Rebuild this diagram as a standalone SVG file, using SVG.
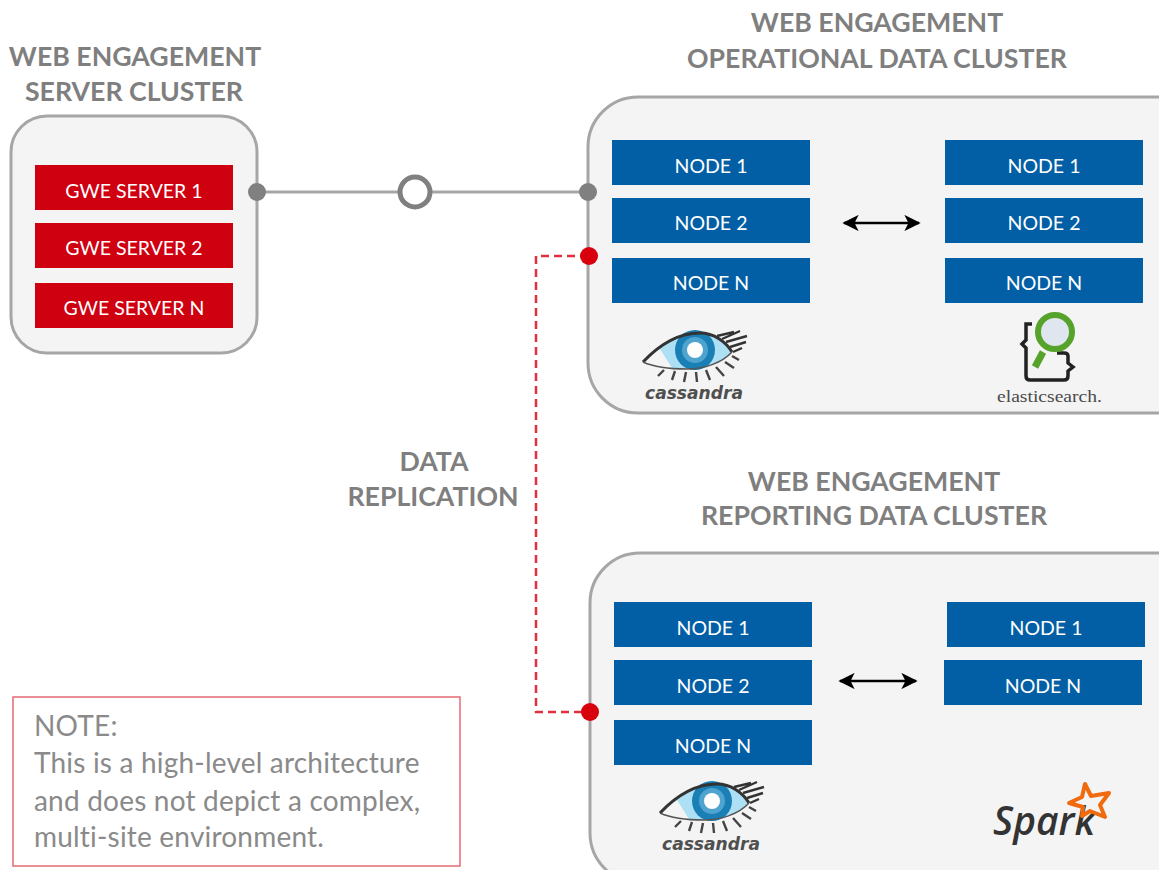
<svg xmlns="http://www.w3.org/2000/svg" width="1159" height="870" viewBox="0 0 1159 870">
<style>
.title{font-family:"Lato","Open Sans",sans-serif;font-weight:700;font-size:26.7px;fill:#7f7f7f;text-anchor:middle}
.cluster{fill:#f4f4f4;stroke:#a6a6a6;stroke-width:3}
.blue{fill:#025fa5}
.red{fill:#cf0010}
.lbl{font-family:"Lato","Open Sans",sans-serif;font-size:19.5px;fill:#fff;text-anchor:middle}
.note{font-family:"Lato","Open Sans",sans-serif;font-size:28px;letter-spacing:.2px;fill:#8a8a8a}
.gl{stroke:#a6a6a6;stroke-width:3;fill:none}
.rd{stroke:#e0303f;stroke-width:2.5;stroke-dasharray:8 5;fill:none}
.dg{fill:#808080}
.dr{fill:#d9000d}
.ar{stroke:#000;stroke-width:2.5;fill:none}
</style>
<defs>
<marker id="ah" viewBox="0 0 10 10" refX="9" refY="5" markerWidth="6.5" markerHeight="6.5" orient="auto-start-reverse"><path d="M0 0L10 5L0 10L2.5 5Z" fill="#000"/></marker>
<symbol id="eye" overflow="visible">
<path d="M1 32C18 14 38 3 58 3C72 3 84 12 90 22C80 33 62 39 45 39C28 39 12 37 1 32Z" fill="#aee0f5"/>
<path d="M1 32C6 27 12 23 18 19L30 38C18 38 9 36 1 32Z" fill="#f4f4f4"/>
<circle cx="53" cy="20" r="20" fill="#1a7fb5"/>
<circle cx="53" cy="20" r="13" fill="#4fa3cf"/>
<circle cx="53" cy="20" r="8" fill="#fff"/>
<path d="M1 32C18 14 38 3 58 3C72 3 84 12 90 22" fill="none" stroke="#333" stroke-width="3"/>
<path d="M1 32C12 37 28 39 45 39C62 39 80 33 90 22" fill="none" stroke="#555" stroke-width="1.5"/>
<path d="M75 6L92 2M80 9L98 1M84 12L105 6M88 17L104 12M91 22L100 18" stroke="#333" stroke-width="2.4" fill="none"/>
<path d="M22 40L16 46M33 41L30 50M44 42L42 52M54 42L55 52M64 40L68 50M74 37L82 46M83 32L92 38M90 26L97 30" stroke="#444" stroke-width="2.4" fill="none"/>
<text x="52" y="69" font-family="'DejaVu Sans',sans-serif" font-style="italic" font-weight="700" font-size="17" fill="#4f4f4f" text-anchor="middle" textLength="98" lengthAdjust="spacingAndGlyphs">cassandra</text>
</symbol>
</defs>
<rect width="1159" height="870" fill="#fff"/>

<text class="title" x="135" y="66">WEB ENGAGEMENT</text>
<text class="title" x="134" y="101">SERVER CLUSTER</text>
<text class="title" x="877" y="32">WEB ENGAGEMENT</text>
<text class="title" x="877" y="68">OPERATIONAL DATA CLUSTER</text>
<text class="title" x="874" y="491">WEB ENGAGEMENT</text>
<text class="title" x="874" y="525">REPORTING DATA CLUSTER</text>
<text class="title" x="434" y="471">DATA</text>
<text class="title" x="433" y="506">REPLICATION</text>

<g id="server-cluster">
<rect class="cluster" x="11" y="116" width="246" height="237" rx="36"/>
<rect class="red" x="35" y="165" width="198" height="45"/><text class="lbl" x="134" y="198">GWE SERVER 1</text>
<rect class="red" x="35" y="223" width="198" height="45"/><text class="lbl" x="134" y="255">GWE SERVER 2</text>
<rect class="red" x="35" y="283" width="198" height="45"/><text class="lbl" x="134" y="315">GWE SERVER N</text>
</g>

<g id="operational-cluster">
<rect class="cluster" x="588" y="97" width="620" height="316" rx="50"/>
<rect class="blue" x="612" y="140" width="198" height="45"/><text class="lbl" x="711" y="173">NODE 1</text>
<rect class="blue" x="612" y="198" width="198" height="45"/><text class="lbl" x="711" y="230">NODE 2</text>
<rect class="blue" x="612" y="258" width="198" height="45"/><text class="lbl" x="711" y="290">NODE N</text>
<rect class="blue" x="945" y="140" width="198" height="45"/><text class="lbl" x="1044" y="173">NODE 1</text>
<rect class="blue" x="945" y="198" width="198" height="45"/><text class="lbl" x="1044" y="230">NODE 2</text>
<rect class="blue" x="945" y="258" width="198" height="45"/><text class="lbl" x="1044" y="290">NODE N</text>
<use href="#eye" x="642" y="330"/>
<g id="elasticsearch-logo">
<path d="M1032 324H1026V340L1022 344L1026 348V376Q1026 380 1030 380H1064Q1068 380 1068 376V371L1073 367L1068 363V356Q1068 353 1064 353H1057" fill="none" stroke="#222" stroke-width="3.5"/>
<circle cx="1055" cy="332" r="17" fill="#dfe6f0" stroke="#56a32b" stroke-width="6"/>
<path d="M1043 352L1035 367" stroke="#56a32b" stroke-width="7"/>
<text x="1049.500" y="402" font-family="'Liberation Serif',serif" font-size="17" fill="#4a4a4a" text-anchor="middle" textLength="105" lengthAdjust="spacingAndGlyphs">elasticsearch.</text>
</g>
</g>

<g id="reporting-cluster">
<rect class="cluster" x="590" y="553" width="620" height="330" rx="50"/>
<rect class="blue" x="614" y="602" width="198" height="45"/><text class="lbl" x="713" y="635">NODE 1</text>
<rect class="blue" x="614" y="660" width="198" height="45"/><text class="lbl" x="713" y="693">NODE 2</text>
<rect class="blue" x="614" y="720" width="198" height="45"/><text class="lbl" x="713" y="753">NODE N</text>
<rect class="blue" x="947" y="602" width="198" height="45"/><text class="lbl" x="1046" y="635">NODE 1</text>
<rect class="blue" x="944" y="660" width="198" height="45"/><text class="lbl" x="1043" y="693">NODE N</text>
<use href="#eye" x="659" y="781"/>
<g id="spark-logo">
<text x="1044" y="835" font-family="'Open Sans',sans-serif" font-style="italic" font-weight="600" font-size="39" fill="#333" text-anchor="middle" textLength="102" lengthAdjust="spacingAndGlyphs">Spark</text>
<path d="M1085 784L1091 796L1109 793L1100 805L1105 817L1090 811L1082 816L1083 807L1069 803L1082 797Z" fill="none" stroke="#f26a0e" stroke-width="4" stroke-linejoin="round"/>
</g>
</g>

<g id="connectors">
<path class="gl" d="M257 192H588"/>
<path class="rd" d="M588 256H536V712H590"/>
<path class="ar" d="M844 223H919" marker-start="url(#ah)" marker-end="url(#ah)"/>
<path class="ar" d="M840 681H916" marker-start="url(#ah)" marker-end="url(#ah)"/>
</g>

<g id="junctions">
<circle class="dg" cx="257" cy="192" r="9"/>
<circle class="dg" cx="588" cy="192" r="9"/>
<circle cx="415" cy="192" r="15" fill="#fff" stroke="#808080" stroke-width="5"/>
<circle class="dr" cx="589" cy="256" r="9"/>
<circle class="dr" cx="590" cy="712" r="9"/>
</g>

<g id="note">
<rect x="13" y="697" width="447" height="169" fill="#fff" stroke="#e4737b" stroke-width="1.6"/>
<text class="note" x="34" y="736">NOTE:</text>
<text class="note" x="34" y="773">This is a high-level architecture</text>
<text class="note" x="34" y="811">and does not depict a complex,</text>
<text class="note" x="34" y="847">multi-site environment.</text>
</g>
</svg>
